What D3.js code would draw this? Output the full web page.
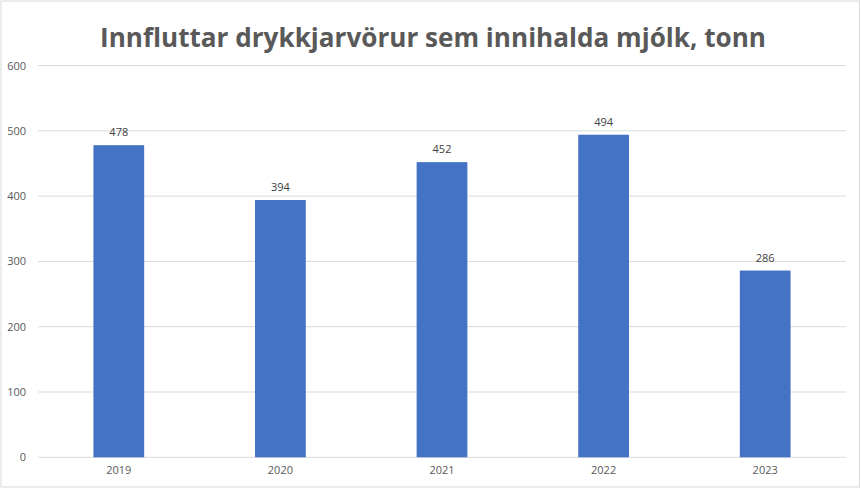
<!DOCTYPE html>
<html lang="is">
<head>
    <meta charset="UTF-8">
    <title>Innfluttar drykkjarvörur sem innihalda mjólk, tonn</title>
    <script src="https://d3js.org/d3.v7.min.js"></script>
    <style>
        body { margin: 0; background: #fff; }
        text { font-family: "Open Sans", "Liberation Sans", sans-serif; }
    </style>
</head>
<body>
    <div id="chart"></div>

    <script>
        // gögn
        const titill = "Innfluttar drykkjarvörur sem innihalda mjólk, tonn";
        const ar = ["2019", "2020", "2021", "2022", "2023"];
        const tonn = [478, 394, 452, 494, 286];
        const yTicks = [0, 100, 200, 300, 400, 500, 600];

        const width = 861;
        const height = 488;
        const margin = { top: 65.5, right: 15, bottom: 30.7, left: 38 };

        const svg = d3.select("#chart")
            .append("svg")
            .attr("width", width)
            .attr("height", height);

        // rammi
        svg.append("rect")
            .attr("x", 1).attr("y", 1)
            .attr("width", width - 2.5).attr("height", height - 2)
            .attr("fill", "none")
            .attr("stroke", "#d9d9d9")
            .attr("stroke-width", 1);

        const x = d3.scaleBand()
            .domain(ar)
            .range([margin.left, width - margin.right])
            .paddingInner(0.686)
            .paddingOuter(0.343);

        const y = d3.scaleLinear()
            .domain([0, 600])
            .range([height - margin.bottom, margin.top]);

        // hnitalínur
        svg.append("g")
            .selectAll("line")
            .data(yTicks)
            .enter()
            .append("line")
            .attr("x1", margin.left)
            .attr("x2", width - margin.right)
            .attr("y1", d => y(d))
            .attr("y2", d => y(d))
            .attr("stroke", "#d9d9d9")
            .attr("stroke-width", 1);

        // y-ás
        const yAxis = svg.append("g")
            .attr("transform", `translate(${margin.left - 12},0)`)
            .call(d3.axisLeft(y).tickValues(yTicks).tickSize(0).tickPadding(0));
        yAxis.select(".domain").remove();
        yAxis.selectAll("text")
            .attr("fill", "#595959")
            .attr("font-size", "11px");

        // x-ás
        const xAxis = svg.append("g")
            .attr("transform", `translate(0,${height - margin.bottom})`)
            .call(d3.axisBottom(x).tickSize(0).tickPadding(9));
        xAxis.select(".domain").remove();
        xAxis.selectAll("text")
            .attr("fill", "#595959")
            .attr("font-size", "11px");

        // súlur
        svg.selectAll("rect.bar")
            .data(ar)
            .enter()
            .append("rect")
            .attr("class", "bar")
            .attr("x", d => x(d))
            .attr("y", (d, i) => y(tonn[i]))
            .attr("width", x.bandwidth())
            .attr("height", (d, i) => y(0) - y(tonn[i]))
            .attr("fill", "#4472c4");

        // gildi ofan á súlum
        svg.selectAll("text.val")
            .data(ar)
            .enter()
            .append("text")
            .attr("class", "val")
            .attr("x", d => x(d) + x.bandwidth() / 2)
            .attr("y", (d, i) => y(tonn[i]) - 9)
            .attr("text-anchor", "middle")
            .attr("font-size", "11px")
            .attr("fill", "#404040")
            .text((d, i) => tonn[i]);

        // titill
        const t = svg.append("text")
            .attr("x", 433)
            .attr("y", 47)
            .attr("text-anchor", "middle")
            .attr("font-size", "30px")
            .attr("font-weight", "bold")
            .attr("fill", "#595959")
            .text(titill);
        const w = t.node().getComputedTextLength();
        t.attr("font-size", (30 * 666 / w).toFixed(2) + "px");
        if (t.node().getComputedTextLength() > 0) {
            t.attr("textLength", 666).attr("lengthAdjust", "spacingAndGlyphs");
        }
    </script>
</body>
</html>
